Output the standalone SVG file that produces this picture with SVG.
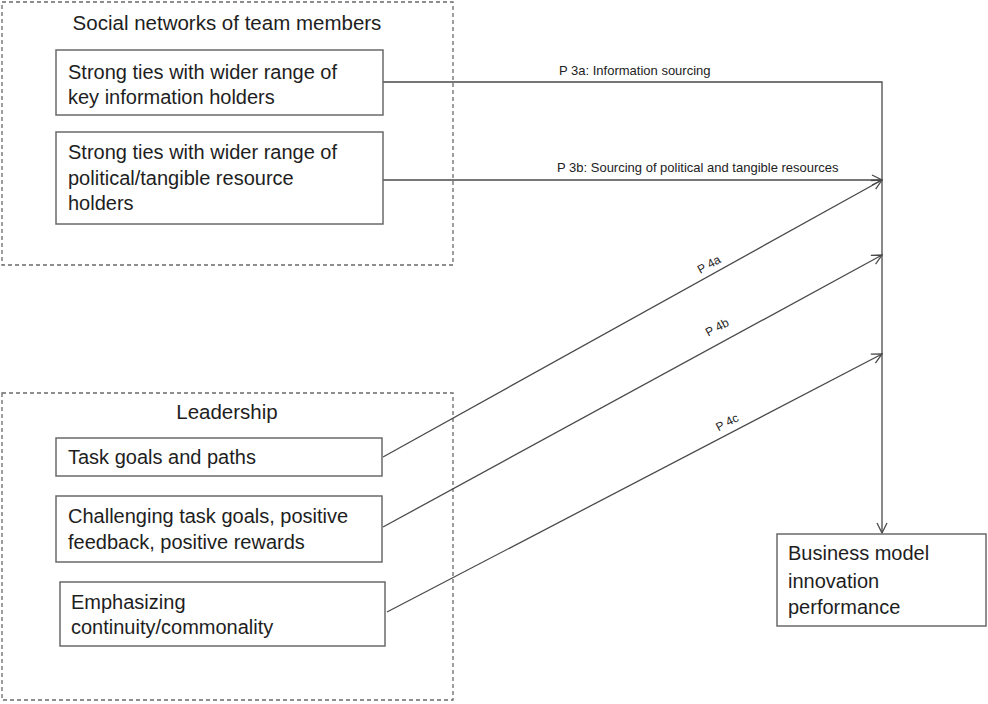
<svg xmlns="http://www.w3.org/2000/svg" width="988" height="704" viewBox="0 0 988 704">
  <style>
    .grp { fill: none; stroke: #6a6a6a; stroke-width: 1.3; stroke-dasharray: 4 3; }
    .box { fill: #ffffff; stroke: #6a6a6a; stroke-width: 1.5; }
    .t { font-family: "Liberation Sans", Arial, sans-serif; font-size: 20px; fill: #1e1e1e; }
    .h { font-family: "Liberation Sans", Arial, sans-serif; font-size: 20.5px; fill: #1e1e1e; text-anchor: middle; }
    .lbl { font-family: "Liberation Sans", Arial, sans-serif; font-size: 13px; fill: #222; }
    .rl { font-family: "Liberation Sans", Arial, sans-serif; font-size: 12px; fill: #222; text-anchor: middle; }
    .edge { fill: none; stroke: #4a4a4a; stroke-width: 1.3; }
  </style>
  <defs>
    <marker id="arrow" viewBox="0 0 12 12" refX="11" refY="6" markerWidth="12" markerHeight="12" markerUnits="userSpaceOnUse" orient="auto">
      <path d="M1,1 L11,6 L1,11" fill="none" stroke="#4a4a4a" stroke-width="1.3"/>
    </marker>
  </defs>
  <rect width="988" height="704" fill="#ffffff"/>

  <!-- group frames -->
  <g id="social-networks">
    <rect class="grp" x="2" y="2" width="451" height="263"/>
    <text class="h" x="227" y="30">Social networks of team members</text>
  </g>
  <g id="leadership">
    <rect class="grp" x="2" y="393" width="451" height="307"/>
    <text class="h" x="227" y="419">Leadership</text>
  </g>

  <!-- connectors -->
  <g id="connectors">
    <polyline class="edge" points="383,82 882,82 882,533" marker-end="url(#arrow)"/>
    <line class="edge" x1="383" y1="180" x2="882" y2="180" marker-end="url(#arrow)"/>
    <line class="edge" x1="383" y1="457" x2="882" y2="180" marker-end="url(#arrow)"/>
    <line class="edge" x1="383" y1="527" x2="882" y2="255" marker-end="url(#arrow)"/>
    <line class="edge" x1="387" y1="612" x2="882" y2="354" marker-end="url(#arrow)"/>
    <text class="lbl" x="559" y="75">P 3a: Information sourcing</text>
    <text class="lbl" x="557" y="172">P 3b: Sourcing of political and tangible resources</text>
    <text class="rl" transform="translate(711,268) rotate(-29)">P 4a</text>
    <text class="rl" transform="translate(719,331) rotate(-28.6)">P 4b</text>
    <text class="rl" transform="translate(729,426) rotate(-27.5)">P 4c</text>
  </g>

  <!-- nodes -->
  <g id="key-information">
    <rect class="box" x="56" y="50" width="327" height="65"/>
    <text class="t" x="68" y="79">Strong ties with wider range of</text>
    <text class="t" x="68" y="104">key information holders</text>
  </g>
  <g id="resource-holders">
    <rect class="box" x="56" y="132" width="327" height="92"/>
    <text class="t" x="68" y="159">Strong ties with wider range of</text>
    <text class="t" x="68" y="185">political/tangible resource</text>
    <text class="t" x="68" y="210">holders</text>
  </g>
  <g id="task-goals">
    <rect class="box" x="56" y="438" width="326" height="38"/>
    <text class="t" x="68" y="464">Task goals and paths</text>
  </g>
  <g id="challenging-goals">
    <rect class="box" x="56" y="496" width="326" height="66"/>
    <text class="t" x="68" y="523">Challenging task goals, positive</text>
    <text class="t" x="68" y="549">feedback, positive rewards</text>
  </g>
  <g id="continuity">
    <rect class="box" x="60" y="582" width="325" height="64"/>
    <text class="t" x="71" y="609">Emphasizing</text>
    <text class="t" x="71" y="634">continuity/commonality</text>
  </g>
  <g id="bmi-performance">
    <rect class="box" x="777" y="534" width="209" height="92"/>
    <text class="t" x="788" y="560">Business model</text>
    <text class="t" x="788" y="588">innovation</text>
    <text class="t" x="788" y="614">performance</text>
  </g>
</svg>
